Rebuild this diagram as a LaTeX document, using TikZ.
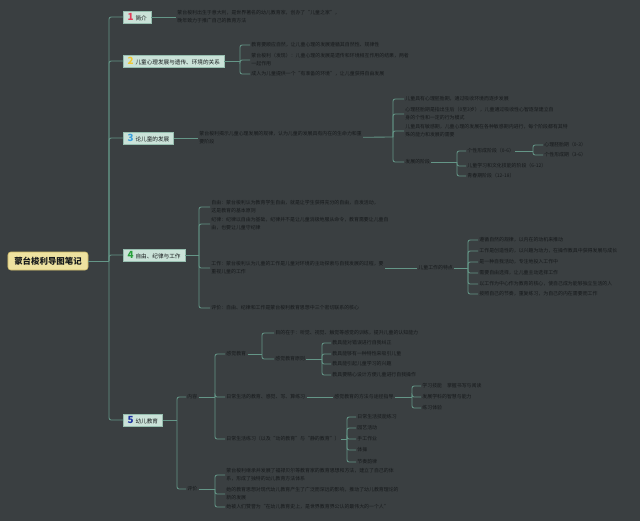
\documentclass[tikz,border=0pt]{standalone}
\usepackage{fontspec}
\setmainfont{Noto Sans CJK SC}
\definecolor{bg}{RGB}{58,63,65}
\definecolor{linec}{RGB}{100,150,135}
\definecolor{txt}{RGB}{22,25,27}
\definecolor{secfill}{RGB}{202,226,216}
\definecolor{secline}{RGB}{150,190,175}
\definecolor{rootfill}{RGB}{238,226,160}
\definecolor{rootline}{RGB}{205,185,105}
\definecolor{c1}{RGB}{225,60,90}
\definecolor{c2}{RGB}{240,200,50}
\definecolor{c3}{RGB}{60,160,220}
\definecolor{c4}{RGB}{40,160,60}
\definecolor{c5}{RGB}{30,50,160}
\newcommand{\secnum}[2]{{\fontsize{7}{7}\selectfont\bfseries\textcolor{#1}{#2}}\hspace{1.5pt}}

\begin{document}
\begin{tikzpicture}[x=0.025cm,y=-0.025cm,
  link/.style={draw=linec,line width=0.6pt,rounded corners=1.5pt},
  leaf/.style={anchor=west,inner sep=0.8pt,text=txt,align=left,font=\fontsize{3.5}{5.6}\selectfont},
  sec/.style={anchor=west,draw=secline,fill=secfill,inner xsep=3pt,inner ysep=1.5pt,minimum height=0.3cm,text=txt,font=\fontsize{4}{5}\selectfont},
  root/.style={draw=rootline,fill=rootfill,rounded corners=2pt,minimum width=2cm,minimum height=0.45cm,text=txt,font=\fontsize{6}{6}\selectfont\bfseries}]
\fill[bg] (0,0) rectangle (640,521);
\useasboundingbox (0,0) rectangle (640,521);

%Root and trunk
\node[root] (root) at (48,261){蒙台梭利导图笔记};
\coordinate (tr) at (109,261);

%Sections
\node[sec] (s1) at (123,17){\secnum{c1}{1}简介};
\node[sec] (s2) at (123,61){\secnum{c2}{2}儿童心理发展与遗传、环境的关系};
\node[sec] (s3) at (123,138){\secnum{c3}{3}论儿童的发展};
\node[sec] (s4) at (123,255){\secnum{c4}{4}自由、纪律与工作};
\node[sec] (s5) at (123,420){\secnum{c5}{5}幼儿教育};

\draw[link] (root) -- (tr);
\foreach \s in {s1,s2,s3,s4,s5} \draw[link] (tr) |- (\s);

%Section 1
\node[leaf] (s1t) at (176,17){蒙台梭利出生于意大利，是世界著名的幼儿教育家，创办了“儿童之家”，\\晚年致力于推广自己的教育方法};
\draw[link] (s1) -- (s1t);

%Section 2
\coordinate (b2) at (240,61);
\node[leaf] (s2a) at (250,45){教育要顺应自然，让儿童心理的发展遵循其自然性、规律性};
\node[leaf] (s2b) at (250,60){蒙台梭利（发现）：儿童心理的发展是遗传和环境相互作用的结果，两者\\一起作用};
\node[leaf] (s2c) at (250,74){成人为儿童提供一个“有准备的环境”，让儿童获得自由发展};
\draw[link] (s2) -- (b2);
\foreach \c in {s2a,s2b,s2c} \draw[link] (b2) |- (\c);

%Section 3
\node[leaf] (s3t) at (198,138){蒙台梭利揭示儿童心理发展的规律，认为儿童的发展具有内在的生命力和重\\要阶段};
\draw[link] (s3) -- (s3t);
\coordinate (b3) at (393,137);
\node[leaf] (s3a) at (404,99){儿童具有心理胚胎期，通过吸收环境而逐步发展};
\node[leaf] (s3b) at (404,114){心理胚胎期是指出生后（0至3岁），儿童通过吸收性心智逐渐建立自\\身的个性和一定的行为模式};
\node[leaf] (s3c) at (404,131){儿童具有敏感期，儿童心理的发展在各种敏感期内进行，每个阶段都有其特\\殊的能力和发展的需要};
\node[leaf] (s3d) at (404,162){发展的阶段};
\draw[link] (s3t) -- (b3);
\foreach \c in {s3a,s3b,s3c,s3d} \draw[link] (b3) |- (\c);

\coordinate (b3d) at (457,162);
\node[leaf] (s3d1) at (466,151){个性形成阶段（0-6）};
\node[leaf] (s3d2) at (466,166){儿童学习和文化技能的阶段（6-12）};
\node[leaf] (s3d3) at (466,176){青春期阶段（12-18）};
\draw[link] (s3d) -- (b3d);
\foreach \c in {s3d1,s3d2,s3d3} \draw[link] (b3d) |- (\c);

\coordinate (b3e) at (533,151);
\node[leaf] (s3e1) at (543,145){心理胚胎期（0-3）};
\node[leaf] (s3e2) at (543,155){个性形成期（3-6）};
\draw[link] (s3d1) -- (b3e);
\foreach \c in {s3e1,s3e2} \draw[link] (b3e) |- (\c);

%Section 4
\coordinate (b4) at (199,255);
\node[leaf] (s4a) at (210,207){自由：蒙台梭利认为教育学生自由，就是让学生获得充分的自由，自发活动，\\这是教育的基本原则};
\node[leaf] (s4b) at (210,224){纪律：纪律以自由为基础，纪律并不是让儿童消极地服从命令，教育需要让儿童自\\由，也要让儿童守纪律};
\node[leaf] (s4c) at (210,268){工作：蒙台梭利认为儿童的工作是儿童对环境的主动探索与自我发展的过程，要\\重视儿童的工作};
\node[leaf] (s4d) at (210,308){评价：自由、纪律和工作是蒙台梭利教育思想中三个密切联系的核心};
\draw[link] (s4) -- (b4);
\foreach \c in {s4a,s4b,s4c,s4d} \draw[link] (b4) |- (\c);

\node[leaf] (s4w) at (417,268){儿童工作的特点};
\draw[link] (s4c) -- (s4w);
\coordinate (b4w) at (468,268);
\node[leaf] (s4w1) at (478,240){遵循自然的规律，以内在的动机来推动};
\node[leaf] (s4w2) at (478,251){工作是创造性的，以兴趣为动力，在操作教具中获得发展与成长};
\node[leaf] (s4w3) at (478,262){是一种自我活动，专注地投入工作中};
\node[leaf] (s4w4) at (478,273){需要自由选择，让儿童主动选择工作};
\node[leaf] (s4w5) at (478,284){以工作为中心作为教育的核心，使自己成为能够独立生活的人};
\node[leaf] (s4w6) at (478,294){按照自己的节奏，重复练习，为自己的内在需要而工作};
\draw[link] (s4w) -- (b4w);
\foreach \c in {s4w1,s4w2,s4w3,s4w4,s4w5,s4w6} \draw[link] (b4w) |- (\c);

%Section 5
\coordinate (b5) at (177,420);
\node[leaf] (s5a) at (186,397){内容};
\node[leaf] (s5b) at (186,489){评价};
\draw[link] (s5) -- (b5);
\foreach \c in {s5a,s5b} \draw[link] (b5) |- (\c);

%Contents
\coordinate (b5a) at (215,397);
\node[leaf] (s5a1) at (225,354){感觉教育};
\node[leaf] (s5a2) at (225,397){日常生活的教育、感觉、写、算练习};
\node[leaf] (s5a3) at (225,439){日常生活练习（以及“动的教育”与“静的教育”）};
\draw[link] (s5a) -- (b5a);
\foreach \c in {s5a1,s5a2,s5a3} \draw[link] (b5a) |- (\c);

\coordinate (b5a1) at (262,354);
\node[leaf] (s5a1a) at (274,333){目的在于：听觉、视觉、触觉等感觉的训练，提升儿童的认知能力};
\node[leaf] (s5a1b) at (274,359){感觉教育原则};
\draw[link] (s5a1) -- (b5a1);
\foreach \c in {s5a1a,s5a1b} \draw[link] (b5a1) |- (\c);

\coordinate (b5a1b) at (322,359);
\node[leaf] (p1) at (331,343){教具能对错误进行自我纠正};
\node[leaf] (p2) at (331,354){教具能够有一种特性来吸引儿童};
\node[leaf] (p3) at (331,364){教具能引起儿童学习的兴趣};
\node[leaf] (p4) at (331,375){教具要精心设计方便儿童进行自我操作};
\draw[link] (s5a1b) -- (b5a1b);
\foreach \c in {p1,p2,p3,p4} \draw[link] (b5a1b) |- (\c);

\node[leaf] (s5a2t) at (333,397){感觉教育的方法与途径指导};
\draw[link] (s5a2) -- (s5a2t);
\coordinate (b5a2t) at (412,397);
\node[leaf] (m1) at (421,386){学习技能　掌握书写与阅读};
\node[leaf] (m2) at (421,397){发展学科的智慧与能力};
\node[leaf] (m3) at (421,408){练习体验};
\draw[link] (s5a2t) -- (b5a2t);
\foreach \c in {m1,m2,m3} \draw[link] (b5a2t) |- (\c);

\coordinate (b5a3) at (347,439);
\node[leaf] (a1) at (356,417){日常生活技能练习};
\node[leaf] (a2) at (356,428){园艺活动};
\node[leaf] (a3) at (356,439){手工作业};
\node[leaf] (a4) at (356,450){体操};
\node[leaf] (a5) at (356,462){节奏韵律};
\draw[link] (s5a3) -- (b5a3);
\foreach \c in {a1,a2,a3,a4,a5} \draw[link] (b5a3) |- (\c);

%Evaluation
\coordinate (b5b) at (215,489);
\node[leaf] (e1) at (225,475){蒙台梭利继承并发展了福禄贝尔等教育家的教育思想和方法，建立了自己的体\\系，形成了独特的幼儿教育方法体系};
\node[leaf] (e2) at (225,494){她的教育思想对现代幼儿教育产生了广泛而深远的影响，推动了幼儿教育理论的\\新的发展};
\node[leaf] (e3) at (225,507){她被人们赞誉为“在幼儿教育史上，是世界教育界公认的最伟大的一个人”};
\draw[link] (s5b) -- (b5b);
\foreach \c in {e1,e2,e3} \draw[link] (b5b) |- (\c);

\end{tikzpicture}
\end{document}
